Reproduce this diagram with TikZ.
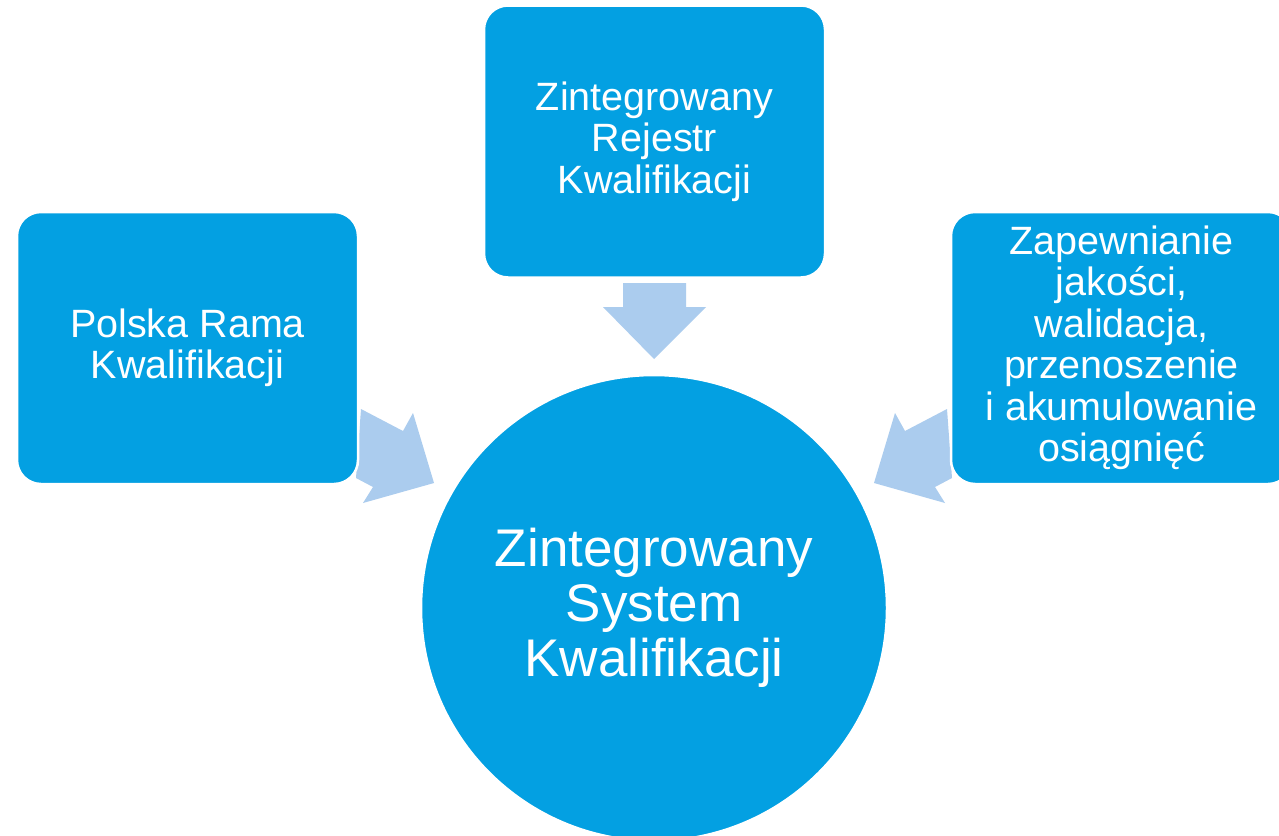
\documentclass[tikz,border=0pt]{standalone}
\usepackage{fontspec}
\setmainfont{Liberation Sans}
\definecolor{boxblue}{RGB}{3,160,226}
\definecolor{arrowblue}{RGB}{171,204,238}
\tikzset{
  blockbox/.style={rectangle, rounded corners=24pt, fill=boxblue, draw=white, line width=2.5pt,
    minimum width=341pt, minimum height=272pt, inner sep=0pt, align=center, text=white,
    font=\fontsize{39.5}{41.5}\selectfont},
  bigcircle/.style={circle, fill=boxblue, draw=white, line width=2.5pt, minimum size=466pt,
    inner sep=0pt, align=center, text=white, font=\fontsize{53}{55}\selectfont},
  blockarrow/.style={fill=arrowblue, draw=none}
}
\begin{document}
\begin{tikzpicture}[x=1pt,y=-1pt]
\useasboundingbox (0,0) rectangle (1279,835);
\clip (0,0) rectangle (1279,835);
\fill[white] (0,0) rectangle (1279,835);
% block arrows
\fill[blockarrow] (623,283) -- (686,283) -- (686,307) -- (706,307) -- (654,359) -- (603,307) -- (623,307) -- cycle;
\fill[blockarrow] (361,409) -- (403,431) -- (413,413) -- (434,483) -- (363,503) -- (373,487) -- (356,478) -- cycle;
\fill[blockarrow] (947,409) -- (905,431) -- (895,413) -- (874,483) -- (945,503) -- (935,487) -- (952,478) -- cycle;
% nodes
\node[blockbox] (prk) at (187.5,348) {Polska Rama\\Kwalifikacji};
\node[blockbox] (zrk) at (654.5,141.5) {Zintegrowany\\Rejestr\\Kwalifikacji};
\node[blockbox] (zj) at (1121.5,348) {Zapewnianie\\jakości,\\walidacja,\\przenoszenie\\i akumulowanie\\osiągnięć};
\node[bigcircle] (zsk) at (654,608) {Zintegrowany\\System\\Kwalifikacji};
\end{tikzpicture}
\end{document}
